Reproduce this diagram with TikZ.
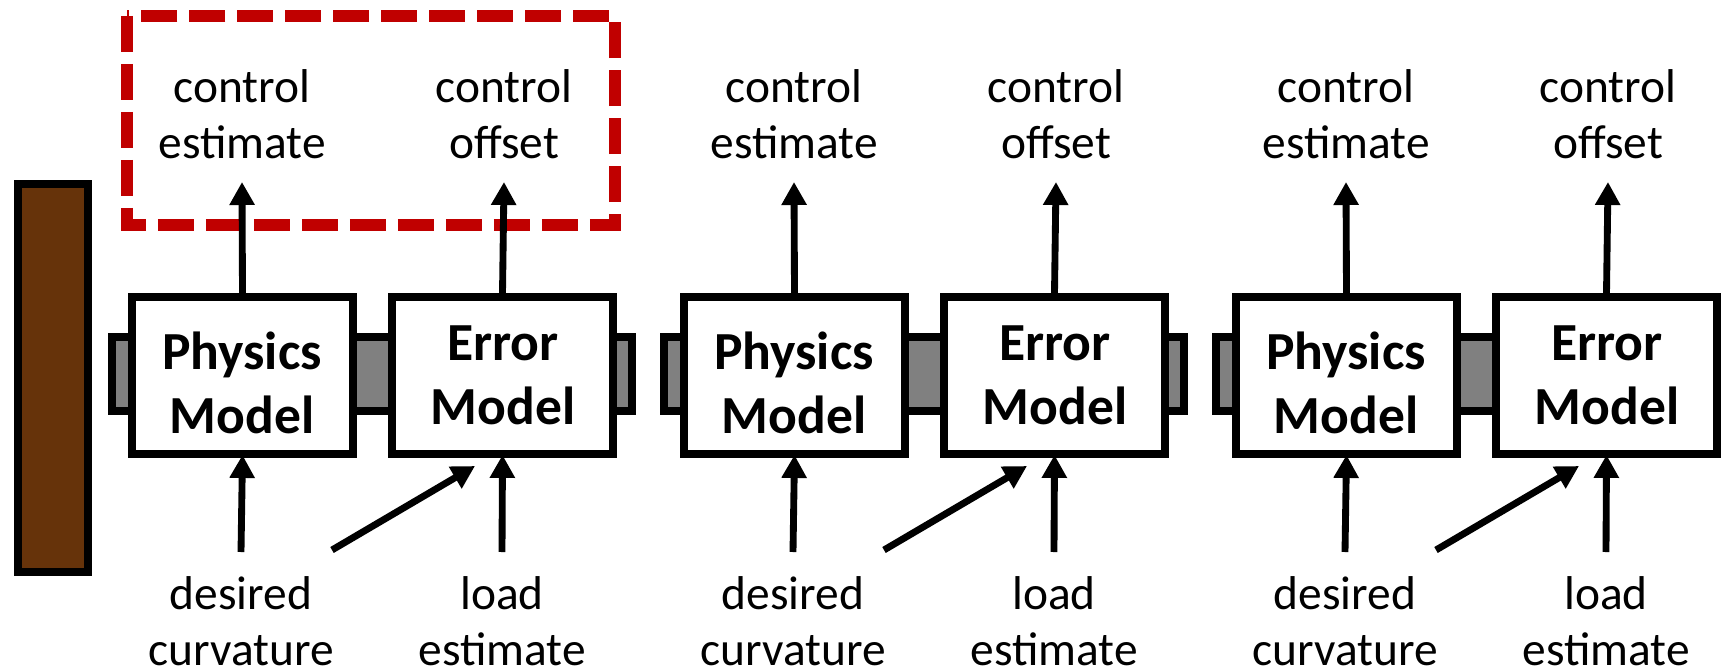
\documentclass[tikz,border=0pt]{standalone}
\usepackage{fontspec}
\setmainfont{Carlito}
\usetikzlibrary{arrows.meta,calc}
\definecolor{woodbrown}{RGB}{102,51,10}
\definecolor{framered}{RGB}{192,0,0}
\definecolor{linkgrey}{RGB}{128,128,128}
\tikzset{
  px/.style={x=0.02cm,y=-0.02cm},
  modelbox/.style={draw=black,fill=white,line width=4.5pt,minimum width=4.42cm,minimum height=3.14cm,inner sep=0pt},
  modeltext/.style={font=\fontsize{30.5}{36.5}\selectfont\bfseries,align=center,inner sep=0pt},
  iolabel/.style={font=\fontsize{27}{31.8}\selectfont,align=center,inner sep=0pt},
  flow/.style={line width=3.9pt,-{Triangle[width=0.48cm,length=0.46cm]}},
  linkbar/.style={draw=black,fill=linkgrey,line width=4.5pt},
}
\begin{document}
\begin{tikzpicture}[px]
\useasboundingbox (0,0) rectangle (1721,669);
% wooden post on the left
\draw[fill=woodbrown,line width=4.5pt] (18,184) rectangle (88,572);
% highlighted output pair
\draw[framered,line width=6.8pt,dash pattern=on 0.72cm off 0.24cm] (127,16) rectangle (615,225);
\foreach \i/\dx in {1/0,2/552,3/1104}{
  \begin{scope}[xshift=\dx*0.02cm]
    % grey coupling bar behind the two models
    \draw[linkbar] (112,337) rectangle (632,411);
    \node[modelbox] (pm\i) at (242.5,375.5) {};
    \node[modelbox] (em\i) at (502.5,375.5) {};
    \node[modeltext] (pt\i) at (242,383) {Physics\\Model};
    \node[modeltext] (et\i) at (503,375) {Error\\Model};
    \node[iolabel] (ce\i) at (242,114) {control\\estimate};
    \node[iolabel] (co\i) at (504,114) {control\\offset};
    \node[iolabel] (dc\i) at (241,621) {desired\\curvature};
    \node[iolabel] (le\i) at (502,621) {load\\estimate};
    \coordinate (pin\i) at (241,552);
    \coordinate (lin\i) at (502,552);
    \coordinate (dtail\i) at (332,550);
    \coordinate (dhead\i) at (475,466);
    \coordinate (pout\i) at (242,182);
    \coordinate (eout\i) at (504,182);
  \end{scope}
  \draw[flow] (pm\i.north) -- (pout\i);
  \draw[flow] (em\i.north) -- (eout\i);
  \draw[flow] (pin\i) -- ([yshift=0.06cm]pm\i.south);
  \draw[flow] (lin\i) -- ([yshift=0.06cm]em\i.south);
  \draw[flow] (dtail\i) -- (dhead\i);
}
\end{tikzpicture}
\end{document}
